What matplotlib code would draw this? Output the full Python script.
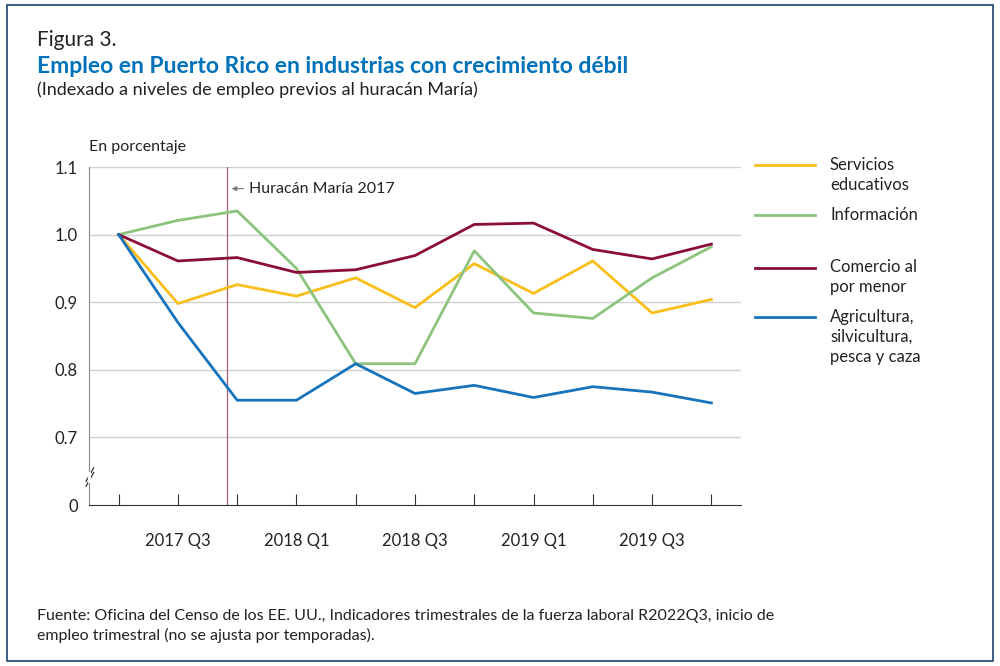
import matplotlib.pyplot as plt
from matplotlib.patches import Rectangle

quarters = ["2017 Q2","2017 Q3","2017 Q4","2018 Q1","2018 Q2","2018 Q3","2018 Q4","2019 Q1","2019 Q2","2019 Q3","2019 Q4"]
tick_labels = ["", "2017 Q3", "", "2018 Q1", "", "2018 Q3", "", "2019 Q1", "", "2019 Q3", ""]
educ = [1.0, 0.898, 0.926, 0.909, 0.936, 0.892, 0.957, 0.913, 0.961, 0.884, 0.904]
info = [1.0, 1.021, 1.035, 0.950, 0.809, 0.809, 0.976, 0.884, 0.876, 0.936, 0.982]
retail = [1.0, 0.961, 0.966, 0.944, 0.948, 0.969, 1.015, 1.017, 0.978, 0.964, 0.986]
agri = [1.0, 0.870, 0.755, 0.755, 0.809, 0.765, 0.777, 0.759, 0.775, 0.767, 0.751]
names = ["Servicios\neducativos", "Información", "Comercio al\npor menor", "Agricultura,\nsilvicultura,\npesca y caza"]
colors = ["#F9BE1A", "#8CC47E", "#8B0D3A", "#1673BC"]
yticks = [0.6, 0.7, 0.8, 0.9, 1.0, 1.1]
ylabels = ["0", "0.7", "0.8", "0.9", "1.0", "1.1"]

plt.rcParams['font.family'] = ['Lato', 'DejaVu Sans']
fig = plt.figure(figsize=(10, 6.66), dpi=100)
fig.patches.append(Rectangle((0.007, 0.008), 0.986, 0.984, transform=fig.transFigure,
                             fill=False, edgecolor="#1F3F6E", linewidth=1.2))
fig.text(0.037, 0.940, "Figura 3.", fontsize=15, color="#222", va="center")
fig.text(0.037, 0.900, "Empleo en Puerto Rico en industrias con crecimiento débil", fontsize=16.5,
         fontweight="bold", color="#0072BC", va="center")
fig.text(0.037, 0.866, "(Indexado a niveles de empleo previos al huracán María)", fontsize=13, color="#222", va="center")
fig.text(0.089, 0.780, "En porcentaje", fontsize=11.5, color="#222", va="center")
fig.text(0.037, 0.060, "Fuente: Oficina del Censo de los EE. UU., Indicadores trimestrales de la fuerza laboral R2022Q3, inicio de\nempleo trimestral (no se ajusta por temporadas).",
         fontsize=11.5, color="#222", va="center", linespacing=1.35)

ax = fig.add_axes([0.089, 1 - 505/666, 0.652, (505 - 167)/666])
x = list(range(len(quarters)))
for s, c in zip([educ, info, retail, agri], colors):
    ax.plot(x, s, color=c, linewidth=2, zorder=3)
ax.set_xlim(-0.5, 10.5)
ax.set_ylim(0.6, 1.1)
ax.set_yticks(yticks)
ax.set_yticklabels(ylabels, fontsize=12, color="#222")
for y in yticks[1:]:
    ax.axhline(y, color="#D0D0D0", linewidth=1, zorder=1)
ax.set_xticks(x)
ax.set_xticklabels(tick_labels, fontsize=12, color="#222")
ax.tick_params(axis="x", direction="in", length=8, color="#333", pad=20)
ax.tick_params(axis="y", length=0, pad=8)
for s in ["top", "right"]:
    ax.spines[s].set_visible(False)
ax.spines["left"].set_color("#888")
ax.spines["bottom"].set_color("#333")
ax.axvline(1.83, color="#A06070", linewidth=0.9, zorder=2)
ax.annotate("Huracán María 2017", xy=(1.86, 1.068), xytext=(2.2, 1.068), fontsize=11.5, color="#222", va="center",
            arrowprops=dict(arrowstyle="-|>", color="#777", lw=0.8, mutation_scale=7))
# axis break
ax.plot([-0.55, -0.42], [0.635, 0.655], color="#333", lw=0.9, clip_on=False)
ax.plot([-0.55, -0.42], [0.628, 0.648], color="#333", lw=0.9, clip_on=False)
ax.plot([-0.5, -0.5], [0.635, 0.648], color="white", lw=2, clip_on=False, zorder=5)

for n, c, ly, ty in zip(names, colors, [0.752, 0.677, 0.598, 0.524], [0.737, 0.677, 0.584, 0.494]):
    fig.add_artist(plt.Line2D([0.755, 0.815], [ly, ly], color=c, lw=2, transform=fig.transFigure))
    fig.text(0.830, ty, n, fontsize=12, color="#222", va="center", linespacing=1.3)
fig.savefig("out.png", dpi=100)
